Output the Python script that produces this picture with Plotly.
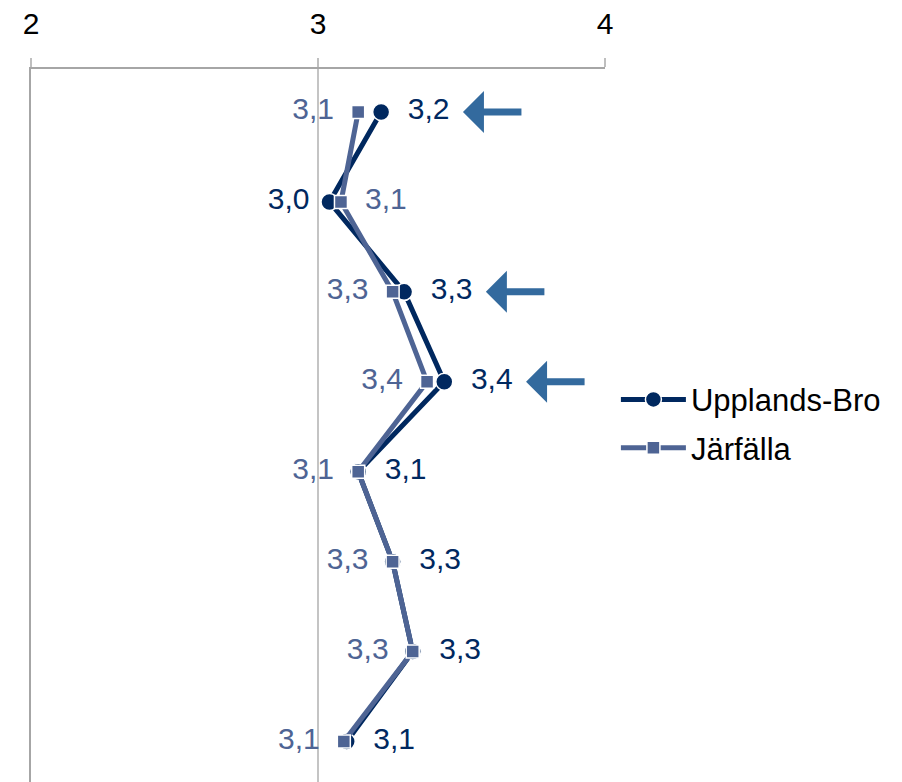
import plotly.graph_objects as go

# 8 survey questions, scores on a 1-5 scale (axis shown 2-4)
rows = [0, 1, 2, 3, 4, 5, 6, 7]
upplands = [3.22, 3.04, 3.30, 3.44, 3.14, 3.26, 3.33, 3.10]
jarfalla = [3.14, 3.08, 3.26, 3.38, 3.14, 3.26, 3.33, 3.09]
arrow_rows = [0, 2, 3]
x_ticks = [2, 3, 4]

navy = "#00285F"
slate = "#4E6494"
arrow_col = "#336A9E"
font = "Liberation Sans, Arial, sans-serif"


def fmt(v):
    return f"{v:.1f}".replace(".", ",")


# label goes on the outer side of the pair of points
up_pos = ["middle right" if u >= j else "middle left" for u, j in zip(upplands, jarfalla)]
ja_pos = ["middle left" if u >= j else "middle right" for u, j in zip(upplands, jarfalla)]

up_text = ["\u2002" + fmt(v) if "right" in p else fmt(v) + " " for v, p in zip(upplands, up_pos)]
ja_text = ["\u2002" + fmt(v) if "right" in p else fmt(v) + "\u2002" for v, p in zip(jarfalla, ja_pos)]

fig = go.Figure()

fig.add_trace(go.Scatter(
    x=upplands, y=rows,
    mode='lines+markers+text',
    name='Upplands-Bro',
    legendgroup='a',
    line=dict(color=navy, width=5),
    marker=dict(symbol='circle', size=17, color=navy, line=dict(width=1.5, color='white')),
    text=up_text,
    textposition=up_pos,
    textfont=dict(family=font, size=30, color=navy),
))

fig.add_trace(go.Scatter(
    x=jarfalla, y=rows,
    mode='lines+markers+text',
    name='Järfälla',
    legendgroup='b',
    line=dict(color=slate, width=5),
    marker=dict(symbol='square', size=13, color=slate, line=dict(width=1.5, color='white')),
    text=ja_text,
    textposition=ja_pos,
    textfont=dict(family=font, size=30, color=slate),
))

# arrows marking the questions where Upplands-Bro scores higher
for r in arrow_rows:
    fig.add_annotation(
        x=upplands[r] + 0.285, y=r, xref='x', yref='y',
        ax=60, ay=0, axref='pixel', ayref='pixel',
        text='', showarrow=True,
        arrowhead=1, arrowsize=1, arrowwidth=7, arrowcolor=arrow_col, standoff=0,
    )

fig.update_xaxes(
    side='top', range=[2, 4], tickvals=x_ticks,
    showgrid=True, gridcolor='#C4C4C4', gridwidth=1.5,
    showline=True, linecolor='#A6A6A6', linewidth=1.5,
    ticks='outside', ticklen=9, tickcolor='#BFBFBF', tickwidth=1.5,
    ticklabelstandoff=12, automargin=False,
    tickfont=dict(family=font, size=30, color='black'),
    zeroline=False,
)
fig.update_yaxes(
    range=[7.45, -0.478], showticklabels=False, showgrid=False, zeroline=False,
    showline=True, linecolor='#A6A6A6', linewidth=1.5, automargin=False,
)

# the page body adds 8px, so margins are trimmed by that much
fig.update_layout(
    width=902, height=782,
    margin=dict(l=23, r=305, t=61, b=8),
    plot_bgcolor='white', paper_bgcolor='white',
    showlegend=True,
    legend=dict(
        x=1.019, y=0.574, xanchor='left', yanchor='top',
        font=dict(family=font, size=31, color='black'),
        tracegroupgap=5, itemwidth=65, bgcolor='rgba(0,0,0,0)',
    ),
)

fig.write_html("out.html")
